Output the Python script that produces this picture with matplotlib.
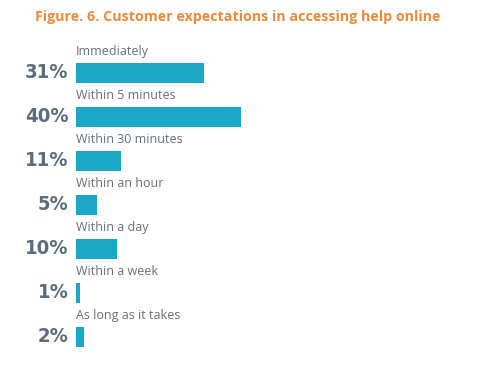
import matplotlib
matplotlib.use("Agg")
import matplotlib.pyplot as plt

categories = ["Immediately", "Within 5 minutes", "Within 30 minutes", "Within an hour",
              "Within a day", "Within a week", "As long as it takes"]
values = [31, 40, 11, 5, 10, 1, 2]
pct_labels = ["31%", "40%", "11%", "5%", "10%", "1%", "2%"]
title = "Figure. 6. Customer expectations in accessing help online"

W, H = 479, 366
fig = plt.figure(figsize=(W/100, H/100), dpi=100)
ax = fig.add_axes([76/W, 0, 1-76/W, 1])
px_per_pct = 4.12
ax.set_xlim(0, (W-76)/px_per_pct)
ax.set_ylim((H-73)/44, -73/44)
ax.axis("off")

ypos = list(range(len(values)))
ax.barh(ypos, values, height=0.47, color="#1aa8c6", align="center")
for y, lab, pct in zip(ypos, categories, pct_labels):
    ax.text(0, y-0.49, lab, ha="left", va="center", fontsize=9.0, color="#66707a",
            family="Open Sans")
    ax.annotate(pct, (0, y), xytext=(-5.5, 0), textcoords="offset points", ha="right", va="center",
                fontsize=14.5, fontweight="bold", fontstretch="condensed", color="#5c6c7c",
                family="DejaVu Sans")

fig.text(238/W, 1-17/H, title, ha="center", va="center", fontsize=10.3, fontweight="bold",
         color="#ec8a3c", family="Open Sans")
fig.savefig("out.png", dpi=100)
